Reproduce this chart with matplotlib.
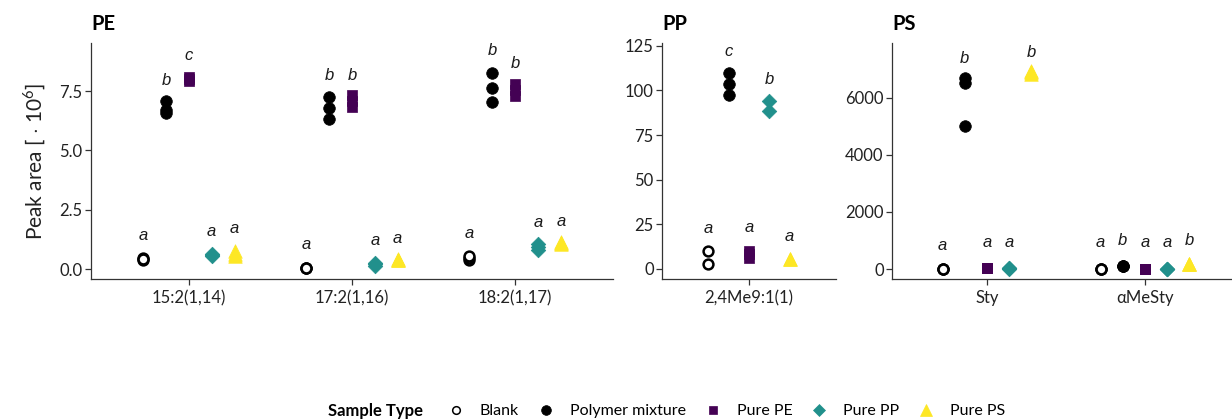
import matplotlib
matplotlib.use("Agg")
import matplotlib.pyplot as plt
from matplotlib.lines import Line2D
import numpy as np

plt.rcParams['font.family'] = ['Lato', 'DejaVu Sans']
plt.rcParams['mathtext.fontset'] = 'custom'
plt.rcParams['mathtext.rm'] = 'Lato'

sample_types = ['Blank', 'Polymer mixture', 'Pure PE', 'Pure PP', 'Pure PS']
type_colors = ['black', 'black', '#440154', '#21908C', '#FDE725']
type_face = ['white', 'black', '#440154', '#21908C', '#FDE725']
type_markers = ['o', 'o', 's', 'D', '^']
type_sizes = [50, 70, 60, 55, 95]

# ---- PE panel (peak area x 1e6) ----
pe_categories = ['15:2(1,14)', '17:2(1,16)', '18:2(1,17)']
pe_blank = [[0.40, 0.45, 0.43], [0.04, 0.06, 0.05], [0.40, 0.48, 0.55]]
pe_mix = [[6.58, 6.70, 7.08], [6.32, 6.79, 7.25], [7.04, 7.63, 8.26]]
pe_pure_pe = [[7.92, 8.0, 8.08], [6.85, 7.10, 7.35], [7.30, 7.55, 7.80]]
pe_pure_pp = [[0.55, 0.60, 0.62], [0.12, 0.20, 0.26], [0.82, 0.95, 1.05]]
pe_pure_ps = [[0.55, 0.62, 0.75], [0.38, 0.40, 0.42], [1.05, 1.10, 1.12]]
pe_letters = [['a', 'b', 'c', 'a', 'a'], ['a', 'b', 'b', 'a', 'a'], ['a', 'b', 'b', 'a', 'a']]
pe_letter_y = [[1.43, 7.97, 9.0, 1.6, 1.69], [1.05, 8.14, 8.18, 1.22, 1.30], [1.50, 9.20, 8.68, 1.98, 2.0]]

# ---- PP panel ----
pp_categories = ['2,4Me9:1(1)']
pp_blank = [[10.1, 2.8]]
pp_mix = [[97.4, 103.5, 109.7]]
pp_pure_pe = [[6.0, 8.5, 10.0]]
pp_pure_pp = [[88.4, 94.0]]
pp_pure_ps = [[5.6, 5.6]]
pp_letters = [['a', 'c', 'a', 'b', 'a']]
pp_letter_y = [[22.4, 122.0, 23.0, 106.0, 18.0]]

# ---- PS panel ----
ps_categories = ['Sty', '\u03b1MeSty']
ps_blank = [[5, 10, 15], [3, 5, 8]]
ps_mix = [[5010, 6515, 6690], [90, 100, 110]]
ps_pure_pe = [[30, 40, 50], [8, 10, 12]]
ps_pure_pp = [[15, 20, 25], [8, 10, 12]]
ps_pure_ps = [[6850, 6900, 6950], [160, 170, 180]]
ps_letters = [['a', 'b', 'a', 'a', 'b'], ['a', 'b', 'a', 'a', 'b']]
ps_letter_y = [[815, 7390, 920, 920, 7600], [920, 990, 920, 920, 990]]

W, H = 1232, 420
fig = plt.figure(figsize=(W / 100, H / 100), dpi=100)

def px_axes(x0, x1, y_top, y_bot):
    return fig.add_axes([x0 / W, 1 - y_bot / H, (x1 - x0) / W, (y_bot - y_top) / H])

panels = [
    dict(title='PE', cats=pe_categories, data=[pe_blank, pe_mix, pe_pure_pe, pe_pure_pp, pe_pure_ps],
         letters=pe_letters, ly=pe_letter_y, box=(91, 613), xlim=(0.4, 3.6), ylim=(-0.42, 9.53),
         yticks=[0, 2.5, 5.0, 7.5], yfmt='{:.1f}'),
    dict(title='PP', cats=pp_categories, data=[pp_blank, pp_mix, pp_pure_pe, pp_pure_pp, pp_pure_ps],
         letters=pp_letters, ly=pp_letter_y, box=(662, 836), xlim=(0.4, 1.6), ylim=(-5.6, 126.5),
         yticks=[0, 25, 50, 75, 100, 125], yfmt='{:.0f}'),
    dict(title='PS', cats=ps_categories, data=[ps_blank, ps_mix, ps_pure_pe, ps_pure_pp, ps_pure_ps],
         letters=ps_letters, ly=ps_letter_y, box=(892, 1232), xlim=(0.4, 0.4 + 340 / 158), ylim=(-350, 7923),
         yticks=[0, 2000, 4000, 6000], yfmt='{:.0f}'),
]

spine_col = '#333333'
for p in panels:
    ax = px_axes(p['box'][0], p['box'][1], 43, 279)
    for ci, cat in enumerate(p['cats']):
        for ti in range(5):
            xpos = ci + 1 + (ti - 2) * 0.14
            vals = p['data'][ti][ci]
            ax.scatter([xpos] * len(vals), vals, marker=type_markers[ti], s=type_sizes[ti],
                       facecolors=type_face[ti], edgecolors=type_colors[ti],
                       linewidths=1.8 if ti == 0 else 0.5, zorder=3, clip_on=False)
            ax.text(xpos, p['ly'][ci][ti], p['letters'][ci][ti], ha='center', va='center',
                    fontsize=12, style='italic', family=['Liberation Sans'], color='#1a1a1a')
    ax.set_xlim(*p['xlim'])
    ax.set_ylim(*p['ylim'])
    ax.set_xticks(range(1, len(p['cats']) + 1))
    ax.set_xticklabels(p['cats'])
    ax.set_yticks(p['yticks'])
    ax.set_yticklabels([p['yfmt'].format(v) for v in p['yticks']])
    for s in ['top', 'right']:
        ax.spines[s].set_visible(False)
    for s in ['left', 'bottom']:
        ax.spines[s].set_color(spine_col)
        ax.spines[s].set_linewidth(0.9)
    ax.tick_params(axis='both', colors=spine_col, labelcolor='#222222', labelsize=12,
                   length=4, width=0.9, pad=2)
    ax.tick_params(axis='x', pad=4)
    ax.set_title(p['title'], loc='left', fontsize=14.5, fontweight='bold', pad=9)
    if p['title'] == 'PE':
        ax.set_ylabel('Peak area [ $\\cdot$ 10$^{6}$]', fontsize=15, labelpad=8, color='#222222')

# legend
fig.text(328 / W, 1 - 411 / H, 'Sample Type', fontsize=12, fontweight='bold', va='center', ha='left')
handles = []
for ti in range(5):
    handles.append(Line2D([], [], linestyle='none', marker=type_markers[ti],
                          markerfacecolor=type_face[ti], markeredgecolor=type_colors[ti],
                          markeredgewidth=1.1 if ti == 0 else 0.5,
                          markersize=[5.5, 7, 6, 6.5, 8][ti]))
fig.legend(handles, sample_types, loc='center left', bbox_to_anchor=(440 / W, 1 - 411 / H),
           ncol=5, frameon=False, fontsize=11.5, handletextpad=0.9, columnspacing=1.08,
           borderaxespad=0, handlelength=1.2)

fig.savefig('out.png', dpi=100)
